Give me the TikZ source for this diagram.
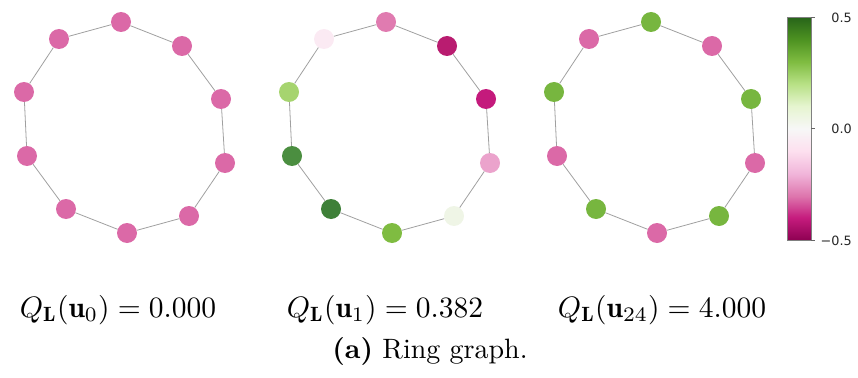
\documentclass[tikz,border=0pt]{standalone}
\usepackage{fontspec}
\newfontfamily\cbfont{DejaVu Sans}
\definecolor{pc0}{HTML}{8E0152}
\definecolor{pc1}{HTML}{C51B7D}
\definecolor{pc2}{HTML}{DE77AE}
\definecolor{pc3}{HTML}{F1B6DA}
\definecolor{pc4}{HTML}{FDE0EF}
\definecolor{pc5}{HTML}{F7F7F7}
\definecolor{pc6}{HTML}{E6F5D0}
\definecolor{pc7}{HTML}{B8E186}
\definecolor{pc8}{HTML}{7FBC41}
\definecolor{pc9}{HTML}{4D9221}
\definecolor{pc10}{HTML}{276419}
\definecolor{edgegray}{HTML}{A0A0A0}
\definecolor{pinkA}{HTML}{DB69A7}
\definecolor{greenA}{HTML}{77B63F}
\definecolor{qA}{HTML}{E07BB0}
\definecolor{qB}{HTML}{B91C70}
\definecolor{qC}{HTML}{C41A7C}
\definecolor{qD}{HTML}{EBA3CC}
\definecolor{qE}{HTML}{EFF5E6}
\definecolor{qF}{HTML}{7FBC41}
\definecolor{qG}{HTML}{3E8038}
\definecolor{qH}{HTML}{4B8E40}
\definecolor{qI}{HTML}{A6D46F}
\definecolor{qJ}{HTML}{FBEAF3}
\newcommand{\cbtext}[1]{{\cbfont\fontsize{12.8pt}{15pt}\selectfont #1}}
\begin{document}
\begin{tikzpicture}[x=1pt,y=-1pt,
  vtx/.style={circle,minimum size=20pt,inner sep=0pt,draw=none},
  ringedge/.style={draw=edgegray,line width=0.8pt},
  qlabel/.style={scale=2.95,transform shape,inner sep=0pt},
  cblabel/.style={text=black!85,anchor=east,inner sep=0pt}]
\useasboundingbox (0,0) rectangle (858,377);
% vertices
\foreach \p/\s/\cl in {a/0/{pinkA,pinkA,pinkA,pinkA,pinkA,pinkA,pinkA,pinkA,pinkA,pinkA},
                       b/265/{qA,qB,qC,qD,qE,qF,qG,qH,qI,qJ},
                       c/530/{greenA,pinkA,greenA,pinkA,greenA,pinkA,greenA,pinkA,greenA,pinkA}} {
  \foreach \i/\x/\y in {0/121/22,1/182/46,2/221/99,3/225/163,4/189/216,5/127/233,6/66/209,7/27/156,8/24/92,9/59/39} {
    \foreach \c [count=\m from 0] in \cl {\ifnum\m=\i\relax\global\let\thecol\c\fi}
    \node[vtx,fill=\thecol] (\p\i) at (\x+\s,\y) {};
  }
  \foreach \i [evaluate=\i as \j using {int(mod(\i+1,10))}] in {0,...,9} {
    \draw[ringedge] (\p\i) -- (\p\j);
  }
}
% labels
\node[qlabel] (la) at (118,310) {$Q_{\mathbf{L}}(\mathbf{u}_0) = 0.000$};
\node[qlabel] (lb) at (385,310) {$Q_{\mathbf{L}}(\mathbf{u}_1) = 0.382$};
\node[qlabel] (lc) at (662,310) {$Q_{\mathbf{L}}(\mathbf{u}_{24}) = 4.000$};
\node[scale=2.8,transform shape,inner sep=0pt] (cap) at (430,351) {\textbf{(a)} Ring graph.};
% colorbar
\foreach \k [evaluate=\k as \kk using {int(\k+1)}] in {0,...,9} {
  \shade[bottom color=pc\k, top color=pc\kk] (787,{240-22.3*\k}) rectangle (811,{240-22.3*(\k+1)+0.3});
}
\node[draw=black!50,line width=0.4pt,minimum width=24pt,minimum height=223pt,inner sep=0pt] (cbar) at (799,128.5) {};
\coordinate (t1) at (811,17);
\coordinate (t2) at (811,128.5);
\coordinate (t3) at (811,240);
\foreach \t in {t1,t2,t3} \draw[black!60,line width=0.5pt] (\t) -- ++(3.5,0);
\node[cblabel] (l1) at (852,18) {\cbtext{0.5}};
\node[cblabel] (l2) at (852,129) {\cbtext{0.0}};
\node[cblabel] (l3) at (852,241) {\cbtext{−0.5}};
\end{tikzpicture}
\end{document}
